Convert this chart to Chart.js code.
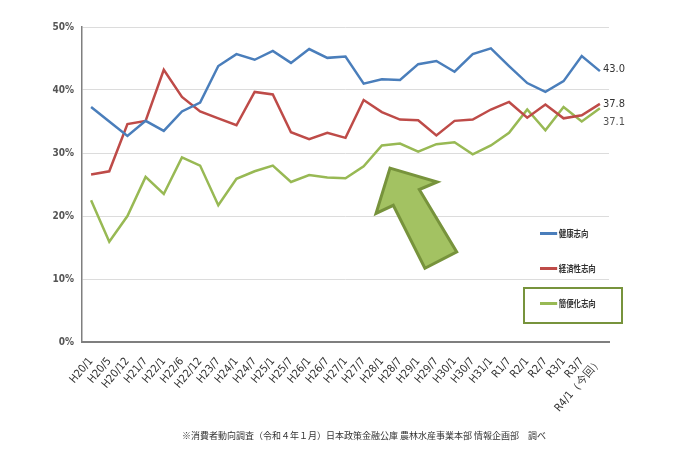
<!DOCTYPE html>
<html lang="ja">
<head>
<meta charset="utf-8">
<title>食の志向の推移</title>
<script src="https://cdn.jsdelivr.net/npm/chart.js@4/dist/chart.umd.min.js"></script>
<style>
  html, body { margin: 0; padding: 0; background: #fff; }
  #wrap { position: relative; width: 700px; height: 467px; }
  #chart { position: absolute; left: 0; top: 0; }
  .legend-item {
    position: absolute; left: 540px; height: 12px;
    font: bold 9.5px "Noto Sans CJK JP", sans-serif; color: #333;
    line-height: 12px; white-space: nowrap;
    transform: scaleX(0.78); transform-origin: left center;
  }
  .legend-item span.swatch {
    display: inline-block; width: 22px; height: 2.5px; vertical-align: middle;
    margin-right: 2px; position: relative; top: -1px;
  }
  #legendBox {
    position: absolute; left: 523px; top: 287px; width: 96px; height: 33px;
    border: 2px solid #77933c;
  }
  #footer {
    position: absolute; left: 14px; width: 700px; top: 429px; text-align: center;
    font: 9px "Noto Sans CJK JP", sans-serif; color: #333;
  }
</style>
</head>
<body>
<div id="wrap">
  <canvas id="chart" width="700" height="467"></canvas>
  <div id="legendBox"></div>
  <div id="legend"></div>
  <div id="footer">※消費者動向調査（令和４年１月）日本政策金融公庫 農林水産事業本部 情報企画部　調べ</div>
</div>
<script>
// === DATA ===
const categories = ['H20/1','H20/5','H20/12','H21/7','H22/1','H22/6','H22/12','H23/7','H24/1','H24/7',
  'H25/1','H25/7','H26/1','H26/7','H27/1','H27/7','H28/1','H28/7','H29/1','H29/7',
  'H30/1','H30/7','H31/1','R1/7','R2/1','R2/7','R3/1','R3/7','R4/1（今回）'];

const health = [37.3,35.0,32.7,35.1,33.5,36.6,38.0,43.8,45.7,44.8,46.2,44.3,46.5,45.1,45.3,
  41.0,41.7,41.6,44.1,44.6,42.9,45.7,46.6,43.8,41.1,39.7,41.4,45.4,43.0];
const economy = [26.6,27.1,34.6,35.1,43.2,38.9,36.6,35.5,34.4,39.7,39.3,33.3,32.2,33.2,32.4,
  38.4,36.5,35.3,35.2,32.8,35.1,35.3,36.9,38.1,35.6,37.7,35.5,36.0,37.8];
const convenience = [22.5,15.9,20.0,26.2,23.5,29.3,28.0,21.7,25.9,27.1,28.0,25.4,26.5,26.1,26.0,
  27.9,31.2,31.5,30.2,31.4,31.7,29.8,31.2,33.2,36.9,33.6,37.3,35.0,37.1];

const seriesNames = ['健康志向', '経済性志向', '簡便化志向'];
const yTicks = [0, 10, 20, 30, 40, 50];

// === STYLE ===
const colors = ['#4a7ebb', '#be4b48', '#98b954'];
const labelColors = ['#333', '#333', '#555'];
const labelOffsetY = [-2, 0, 14];
const legendTops = [227, 262, 297];
const narrowFont = "'Liberation Sans Narrow', 'DejaVu Sans Condensed', sans-serif";

// === LEGEND (html) ===
const legendEl = document.getElementById('legend');
seriesNames.forEach((name, i) => {
  const item = document.createElement('div');
  item.className = 'legend-item';
  item.style.top = legendTops[i] + 'px';
  item.innerHTML = `<span class="swatch" style="background:${colors[i]}"></span>${name}`;
  legendEl.appendChild(item);
});

// === END VALUE LABELS ===
const endLabels = {
  id: 'endLabels',
  afterDatasetsDraw(chart) {
    const ctx = chart.ctx;
    ctx.save();
    ctx.font = '11px ' + narrowFont;
    ctx.textBaseline = 'middle';
    ctx.textAlign = 'left';
    chart.data.datasets.forEach((ds, i) => {
      const meta = chart.getDatasetMeta(i);
      const pt = meta.data[meta.data.length - 1];
      ctx.fillStyle = labelColors[i];
      ctx.fillText(ds.data[ds.data.length - 1].toFixed(1), pt.x + 3, pt.y + labelOffsetY[i]);
    });
    ctx.restore();
  }
};

// === ARROW ANNOTATION (in index / value space) ===
const arrowShape = [[16.45,27.6],[19.05,25.4],[18.06,24.2],[20.12,14.3],[18.37,11.7],[16.63,21.7],[15.68,20.4]];
const arrowPlugin = {
  id: 'arrow',
  beforeDatasetsDraw(chart) {
    const { ctx, scales: { x, y } } = chart;
    ctx.save();
    ctx.beginPath();
    arrowShape.forEach(([i, v], k) => {
      const px = x.getPixelForValue(i), py = y.getPixelForValue(v);
      if (k === 0) ctx.moveTo(px, py); else ctx.lineTo(px, py);
    });
    ctx.closePath();
    ctx.fillStyle = '#a3c262';
    ctx.fill();
    ctx.lineWidth = 3;
    ctx.lineJoin = 'miter';
    ctx.strokeStyle = '#77933c';
    ctx.stroke();
    ctx.restore();
  }
};

// === CHART ===
const mkDataset = (label, data, i) => ({
  label, data,
  borderColor: colors[i], backgroundColor: colors[i],
  borderWidth: 2.5, pointRadius: 0, tension: 0, fill: false
});

new Chart(document.getElementById('chart'), {
  type: 'line',
  data: {
    labels: categories,
    datasets: [
      mkDataset(seriesNames[0], health, 0),
      mkDataset(seriesNames[1], economy, 1),
      mkDataset(seriesNames[2], convenience, 2)
    ]
  },
  options: {
    responsive: false,
    animation: false,
    layout: { padding: { top: 27, right: 91, left: 0, bottom: 0 } },
    plugins: { legend: { display: false }, tooltip: { enabled: false } },
    scales: {
      x: {
        offset: true,
        grid: { display: false, drawTicks: false },
        border: { color: '#7f7f7f', width: 2 },
        ticks: {
          color: '#333', autoSkip: false, maxRotation: 50, minRotation: 50, padding: 13,
          font: { family: narrowFont, size: 11 }
        },
        afterFit(scale) { scale.height = 125; }
      },
      y: {
        min: 0, max: 50,
        afterBuildTicks(scale) { scale.ticks = yTicks.map(v => ({ value: v })); },
        grid: { color: '#dcdcdc', lineWidth: 1, drawTicks: false },
        border: { color: '#7f7f7f', width: 1.5 },
        ticks: {
          color: '#555', padding: 8,
          font: { family: narrowFont, size: 10, weight: 'bold' },
          callback: v => v + '%'
        },
        afterFit(scale) { scale.width = 82; }
      }
    }
  },
  plugins: [arrowPlugin, endLabels]
});
</script>
</body>
</html>
